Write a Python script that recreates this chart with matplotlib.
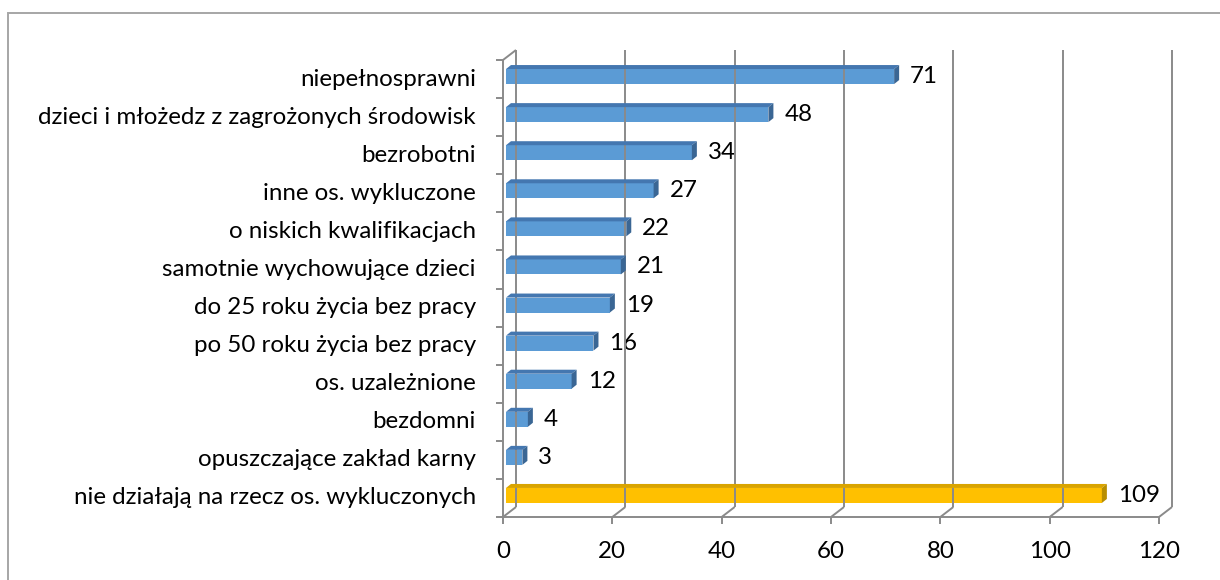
import matplotlib
matplotlib.use("Agg")
import matplotlib.pyplot as plt
from matplotlib.transforms import IdentityTransform, offset_copy
from matplotlib.lines import Line2D
from matplotlib.patches import Polygon, Rectangle

categories = [
    "niepełnosprawni",
    "dzieci i młożedz z zagrożonych środowisk",
    "bezrobotni",
    "inne os. wykluczone",
    "o niskich kwalifikacjach",
    "samotnie wychowujące dzieci",
    "do 25 roku życia bez pracy",
    "po 50 roku życia bez pracy",
    "os. uzależnione",
    "bezdomni",
    "opuszczające zakład karny",
    "nie działają na rzecz os. wykluczonych",
]
values = [71, 48, 34, 27, 22, 21, 19, 16, 12, 4, 3, 109]
highlight = [False] * 11 + [True]
xticks = [0, 20, 40, 60, 80, 100, 120]

W, H, DPI = 1220, 580, 100
plt.rcParams['font.family'] = ['Lato', 'DejaVu Sans']
FS = 17.4

fig = plt.figure(figsize=(W / DPI, H / DPI), dpi=DPI)
ax = fig.add_axes([503 / W, 1 - 517 / H, 656 / W, 457 / H])
n = len(categories)
ax.set_xlim(0, 120)
ax.set_ylim(-0.5, n - 0.5)
ax.axis('off')

ypos = [n - 1 - i for i in range(n)]
GRID = '#8a8a8a'
DX, DY = 13, 10  # depth offset in pixels


def D(x, y):
    return ax.transData.transform((x, y))


def line(pts, color=GRID, lw=1.4, z=1):
    xs = [p[0] for p in pts]
    ys = [p[1] for p in pts]
    fig.add_artist(Line2D(xs, ys, transform=IdentityTransform(), color=color,
                          lw=lw, zorder=z, solid_capstyle='butt'))


# figure border
fig.add_artist(Rectangle((8, -30), W + 60, H - 13 + 30, transform=IdentityTransform(),
                         fill=False, edgecolor='#a6a6a6', lw=1.4, zorder=0))

ybot, ytop = -0.5, n - 0.5
# back-wall gridlines and floor slants, floor ticks
for t in xticks:
    b = D(t, ybot)
    tp = D(t, ytop)
    line([(b[0] + DX, b[1] + DY), (tp[0] + DX, tp[1] + DY)])
    line([b, (b[0] + DX, b[1] + DY)])
    line([b, (b[0], b[1] - 7)])
# front floor line
line([D(0, ybot), D(120, ybot)])
# left wall
line([D(0, ybot), D(0, ytop)])
tp = D(0, ytop)
line([tp, (tp[0] + DX, tp[1] + DY)])
for k in range(n + 1):
    p = D(0, k - 0.5)
    line([p, (p[0] - 7, p[1])])

# bars
slot_px = D(0, 1)[1] - D(0, 0)[1]
bh_px = 15.0
BX, BY = 3, 2.5
bar_tr = offset_copy(ax.transData, fig=fig, x=BX, y=BY, units='dots')
colors = ['#FFC000' if h else '#5B9BD5' for h in highlight]
tops = ['#D9A400' if h else '#4477B0' for h in highlight]
sides = ['#B88E00' if h else '#3A6694' for h in highlight]
ax.barh(ypos, values, height=bh_px / slot_px, left=0, color=colors,
        transform=bar_tr, zorder=3, linewidth=0)
SDX, SDY = 5, 4
for y, v, ct, cs in zip(ypos, values, tops, sides):
    x0, yb = D(0, y - bh_px / slot_px / 2)
    x1, yt = D(v, y + bh_px / slot_px / 2)
    x0 += BX; x1 += BX; yb += BY; yt += BY
    fig.add_artist(Polygon([(x0, yt), (x1, yt), (x1 + SDX, yt + SDY), (x0 + SDX, yt + SDY)],
                           closed=True, transform=IdentityTransform(), facecolor=ct,
                           edgecolor='none', zorder=4))
    fig.add_artist(Polygon([(x1, yb), (x1, yt), (x1 + SDX, yt + SDY), (x1 + SDX, yb + SDY)],
                           closed=True, transform=IdentityTransform(), facecolor=cs,
                           edgecolor='none', zorder=4))

# value labels
for y, v in zip(ypos, values):
    ax.annotate(str(v), xy=(v, y), xytext=(BX + 16, BY), textcoords='offset pixels',
                ha='left', va='center', fontsize=FS, color='black')

# category labels
for y, c in zip(ypos, categories):
    ax.annotate(c, xy=(0, y), xytext=(-27, 0), textcoords='offset pixels',
                ha='right', va='center', fontsize=FS, color='black')

# x tick labels
for t in xticks:
    ax.annotate(str(t), xy=(t, ybot), xytext=(0, -34), textcoords='offset pixels',
                ha='center', va='center', fontsize=FS, color='black')

fig.savefig('out.png', dpi=DPI, facecolor='white')
